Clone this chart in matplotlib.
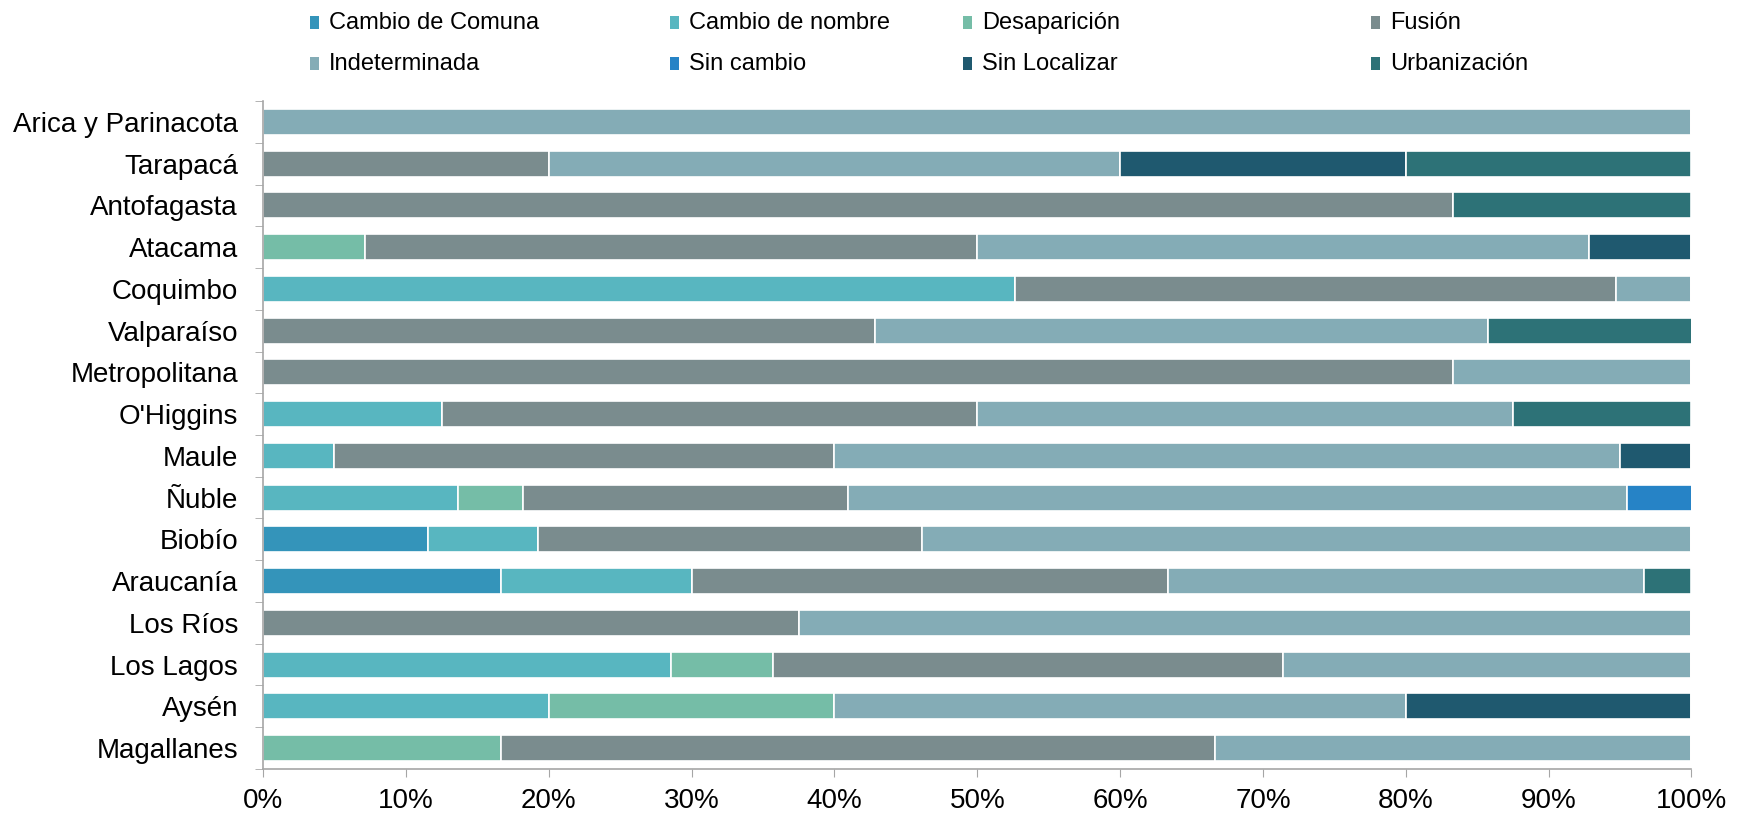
import matplotlib.pyplot as plt
from matplotlib.patches import Rectangle
import numpy as np

plt.rcParams['font.family'] = ['Liberation Sans', 'DejaVu Sans']

# ============================================================
# Data (share of communes per category, %)
# ============================================================

regions = ["Arica y Parinacota", "Tarapacá", "Antofagasta", "Atacama", "Coquimbo",
           "Valparaíso", "Metropolitana", "O'Higgins", "Maule", "Ñuble", "Biobío",
           "Araucanía", "Los Ríos", "Los Lagos", "Aysén", "Magallanes"]

categories = ["Cambio de Comuna", "Cambio de nombre", "Desaparición", "Fusión",
              "Indeterminada", "Sin cambio", "Sin Localizar", "Urbanización"]

cambio_comuna = [0, 0, 0, 0, 0, 0, 0, 0, 0, 0, 11.54, 16.67, 0, 0, 0, 0]
cambio_nombre = [0, 0, 0, 0, 52.63, 0, 0, 12.5, 5.0, 13.64, 7.69, 13.33, 0, 28.57, 20.0, 0]
desaparicion  = [0, 0, 0, 7.14, 0, 0, 0, 0, 0, 4.55, 0, 0, 0, 7.14, 20.0, 16.67]
fusion        = [0, 20.0, 83.33, 42.86, 42.11, 42.86, 83.33, 37.5, 35.0, 22.73, 26.92, 33.33, 37.5, 35.71, 0, 50.0]
indeterminada = [100, 40.0, 0, 42.86, 5.26, 42.86, 16.67, 37.5, 55.0, 54.55, 53.85, 33.33, 62.5, 28.57, 40.0, 33.33]
sin_cambio    = [0, 0, 0, 0, 0, 0, 0, 0, 0, 4.55, 0, 0, 0, 0, 0, 0]
sin_localizar = [0, 20.0, 0, 7.14, 0, 0, 0, 0, 5.0, 0, 0, 0, 0, 0, 20.0, 0]
urbanizacion  = [0, 20.0, 16.67, 0, 0, 14.29, 0, 12.5, 0, 0, 0, 3.33, 0, 0, 0, 0]

series = [cambio_comuna, cambio_nombre, desaparicion, fusion,
          indeterminada, sin_cambio, sin_localizar, urbanizacion]

colors = ["#3494BA", "#58B6C0", "#75BDA7", "#7A8C8E",
          "#84ACB6", "#2683C6", "#1F596F", "#2D7277"]

# ============================================================
# Plot
# ============================================================

fig = plt.figure(figsize=(17.42, 8.17), dpi=100)
ax = fig.add_axes([0.151, 0.0588, 0.820, 0.8175])

y = np.arange(len(regions))
left = np.zeros(len(regions))
for vals, col in zip(series, colors):
    vals = np.array(vals, dtype=float)
    ax.barh(y, vals, left=left, height=0.62, color=col,
            edgecolor="white", linewidth=1.2)
    left += vals

ax.set_xlim(0, 100)
ax.set_ylim(len(regions) - 0.5, -0.5)

ax.set_xticks(np.arange(0, 101, 10))
ax.set_xticklabels([f"{v}%" for v in range(0, 101, 10)], fontsize=20)
ax.set_yticks(y)
ax.set_yticklabels(regions, fontsize=20)
ax.set_yticks(np.arange(-0.5, len(regions)), minor=True)

ax.tick_params(axis="y", which="major", length=0, pad=18)
ax.tick_params(axis="y", which="minor", length=6, color="#A6A6A6", direction="out")
ax.tick_params(axis="x", length=6, color="#A6A6A6", pad=8)

for s in ["top", "right"]:
    ax.spines[s].set_visible(False)
for s in ["left", "bottom"]:
    ax.spines[s].set_color("#A6A6A6")
    ax.spines[s].set_linewidth(1.2)

# legend: 2 rows x 4 columns laid out like the original
col_x = [314, 674, 967, 1375]
row_y = [23, 64]
W, H = 1742, 817
for i, (name, col) in enumerate(zip(categories, colors)):
    cx = col_x[i % 4]
    cy = row_y[i // 4]
    fig.add_artist(Rectangle(((cx - 4) / W, 1 - (cy + 6) / H), 9 / W, 13 / H,
                             transform=fig.transFigure, facecolor=col,
                             edgecolor="none"))
    fig.text((cx + 15) / W, 1 - cy / H, name, fontsize=17, va="center", ha="left")

fig.savefig("out.png", dpi=100)
